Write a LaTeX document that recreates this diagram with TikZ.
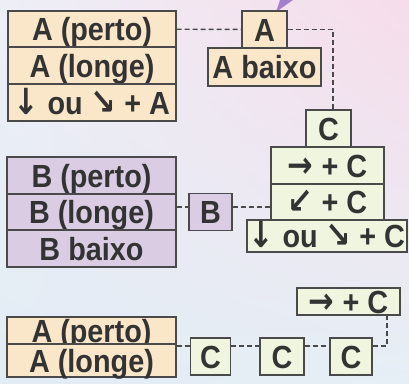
\documentclass[tikz,border=0pt]{standalone}
\usepackage{fontspec}
\setmainfont{Liberation Sans}[FakeStretch=0.9]
\newfontfamily\arrowfont{DejaVu Sans}[FakeStretch=0.85]
\newcommand{\seta}[1]{{\arrowfont\bfseries\fontsize{36}{36}\selectfont #1}}
\usetikzlibrary{shadings}

\definecolor{peach}{HTML}{FAE6C9}
\definecolor{lilac}{HTML}{DACCE3}
\definecolor{mint}{HTML}{EFF5DF}
\definecolor{ink}{HTML}{333333}
\definecolor{boxline}{HTML}{4A4A4A}
\definecolor{tipcol}{HTML}{A480CC}
\definecolor{bgul}{HTML}{EDEFF6}
\definecolor{bgur}{HTML}{F7DCEB}
\definecolor{bgll}{HTML}{E2ECF5}
\definecolor{bglr}{HTML}{E6EFF5}

\begin{document}
\begin{tikzpicture}
  [x=1pt,y=-1pt,
   every node/.style={draw=boxline,line width=1.1pt,inner sep=0pt,text=ink,
     text height=23pt,text depth=0pt,
     font=\fontsize{32}{32}\selectfont\bfseries},
   peachbox/.style={fill=peach},
   lilacbox/.style={fill=lilac},
   mintbox/.style={fill=mint},
   link/.style={draw=boxline,line width=1.4pt,dash pattern=on 5pt off 3pt}]
  \useasboundingbox (0,0) rectangle (409,383);
  \shade[upper left=bgul,upper right=bgur,lower left=bgll,lower right=bglr]
    (0,0) rectangle (409,383);
  \fill[tipcol] (276,12) -- (280,0) -- (293,0) -- cycle;

  % A column
  \node[peachbox,minimum width=168pt,minimum height=36pt] (ap) at (92,29) {A (perto)};
  \node[peachbox,minimum width=168pt,minimum height=37pt] (al) at (92,65.5) {A (longe)};
  \node[peachbox,minimum width=168pt,minimum height=37pt] (ad) at (92,102.5) {\seta{↓} ou \seta{↘} + A};
  \node[peachbox,minimum width=45pt,minimum height=37pt] (a) at (264.5,29.5) {A};
  \node[peachbox,minimum width=113pt,minimum height=38pt] (ab) at (264.5,67) {A baixo};

  % C stack
  \node[mintbox,minimum width=45pt,minimum height=37pt] (c) at (328.5,128.5) {C};
  \node[mintbox,minimum width=113pt,minimum height=37pt] (cr) at (327.5,165.5) {\seta{→} + C};
  \node[mintbox,minimum width=113pt,minimum height=36pt] (cl) at (327.5,202) {\seta{↙} + C};
  \node[mintbox,minimum width=160pt,minimum height=32pt] (cd) at (327,236) {\seta{↓} ou \seta{↘} + C};

  % B column
  \node[lilacbox,minimum width=169pt,minimum height=37pt] (bp) at (91.5,175.5) {B (perto)};
  \node[lilacbox,minimum width=169pt,minimum height=36pt] (bl) at (91.5,212) {B (longe)};
  \node[lilacbox,minimum width=169pt,minimum height=37pt] (bx) at (91.5,248.5) {B baixo};
  \node[lilacbox,minimum width=43pt,minimum height=37pt] (b) at (210.5,212) {B};

  % bottom row
  \node[peachbox,minimum width=169pt,minimum height=27pt] (ap2) at (91.5,330.5) {A (perto)};
  \node[peachbox,minimum width=169pt,minimum height=33pt] (al2) at (91.5,360.5) {A (longe)};
  \node[mintbox,minimum width=40pt,minimum height=37pt] (c1) at (210.5,356.5) {C};
  \node[mintbox,minimum width=44pt,minimum height=37pt] (c2) at (282,356.5) {C};
  \node[mintbox,minimum width=42pt,minimum height=37pt] (c3) at (351,356.5) {C};
  \node[mintbox,minimum width=103pt,minimum height=27pt] (cr2) at (348.5,301.5) {\seta{→} + C};

  \draw[link] (ap) -- (a);
  \draw[link] (a.east) -| ([xshift=4.5pt]c.north);
  \draw[link] ([yshift=5pt]bl.east) -- ([yshift=5pt]b.west);
  \draw[link] ([yshift=5pt]b.east) -- ([yshift=-5pt]cl.west);
  \draw[link] ([yshift=14.5pt]al2.east) -- ([yshift=10.5pt]c1.west);
  \foreach \from/\to in {c1/c2,c2/c3}
    \draw[link] ([yshift=10.5pt]\from.east) -- ([yshift=10.5pt]\to.west);
  \draw[link] ([yshift=10.5pt]c3.east) -| ([xshift=38.5pt]cr2.south);
\end{tikzpicture}
\end{document}
